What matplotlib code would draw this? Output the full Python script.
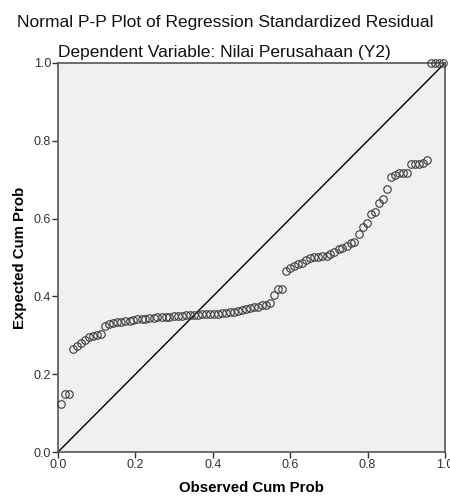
import matplotlib
matplotlib.use("Agg")
import matplotlib.pyplot as plt

plt.rcParams['font.family'] = ['Liberation Sans', 'DejaVu Sans']

title = "Normal P-P Plot of Regression Standardized Residual"
subtitle = "Dependent Variable: Nilai Perusahaan (Y2)"
x_label = "Observed Cum Prob"
y_label = "Expected Cum Prob"
tick_values = [0.0, 0.2, 0.4, 0.6, 0.8, 1.0]
tick_labels = ["0.0", "0.2", "0.4", "0.6", "0.8", "1.0"]

observed = [
    0.008, 0.018, 0.029, 0.039, 0.050, 0.060, 0.070, 0.081, 0.091, 0.102,
    0.112, 0.122, 0.133, 0.143, 0.153, 0.164, 0.174, 0.185, 0.195, 0.205,
    0.216, 0.226, 0.236, 0.247, 0.257, 0.268, 0.278, 0.288, 0.299, 0.309,
    0.320, 0.330, 0.340, 0.351, 0.361, 0.372, 0.382, 0.392, 0.403, 0.413,
    0.424, 0.434, 0.444, 0.455, 0.465, 0.475, 0.486, 0.496, 0.507, 0.517,
    0.527, 0.538, 0.548, 0.559, 0.569, 0.579, 0.590, 0.600, 0.611, 0.621,
    0.631, 0.642, 0.652, 0.662, 0.673, 0.683, 0.694, 0.704, 0.714, 0.725,
    0.735, 0.746, 0.756, 0.766, 0.777, 0.787, 0.798, 0.808, 0.818, 0.829,
    0.839, 0.849, 0.860, 0.870, 0.881, 0.891, 0.901, 0.912, 0.922, 0.932,
    0.943, 0.953, 0.964, 0.974, 0.984, 0.995,
]
expected = [
    0.123, 0.150, 0.150, 0.264, 0.272, 0.281, 0.289, 0.296, 0.299, 0.300,
    0.303, 0.325, 0.328, 0.331, 0.333, 0.335, 0.337, 0.338, 0.340, 0.341,
    0.342, 0.343, 0.344, 0.345, 0.346, 0.347, 0.347, 0.348, 0.349, 0.350,
    0.350, 0.351, 0.352, 0.352, 0.353, 0.354, 0.354, 0.355, 0.356, 0.356,
    0.357, 0.358, 0.359, 0.360, 0.363, 0.366, 0.368, 0.370, 0.372, 0.374,
    0.377, 0.379, 0.382, 0.403, 0.418, 0.418, 0.466, 0.472, 0.478, 0.483,
    0.487, 0.493, 0.498, 0.501, 0.502, 0.503, 0.504, 0.508, 0.515, 0.521,
    0.525, 0.530, 0.536, 0.540, 0.560, 0.578, 0.588, 0.612, 0.616, 0.639,
    0.650, 0.676, 0.706, 0.712, 0.717, 0.718, 0.718, 0.740, 0.740, 0.741,
    0.744, 0.751, 0.999, 0.9993, 0.9996, 0.9999,
]

fig = plt.figure(figsize=(4.5, 4.98), dpi=100)
fig.patch.set_facecolor('white')
ax = fig.add_axes([58/450, 1 - 452/498, 387/450, 389/498])
ax.set_facecolor('#F0F0F0')

ax.plot([0, 1], [0, 1], color='black', lw=1.0, zorder=2)
ax.plot(observed, expected, linestyle='none', marker='o', markersize=5.4,
        markerfacecolor='none', markeredgecolor='#3a3a3a', markeredgewidth=0.8,
        zorder=3, clip_on=False)

ax.set_xlim(0, 1)
ax.set_ylim(0, 1)
ax.set_xticks(tick_values)
ax.set_xticklabels(tick_labels)
ax.set_yticks(tick_values)
ax.set_yticklabels(tick_labels)
ax.tick_params(direction='out', length=4, width=1, color='#333333',
               labelsize=9, labelcolor='#333333', pad=1)
for s in ax.spines.values():
    s.set_color('#555555')
    s.set_linewidth(1.2)

ax.set_xlabel(x_label, fontsize=10.8, fontweight='bold', labelpad=7)
ax.set_ylabel(y_label, fontsize=10.8, fontweight='bold', labelpad=5)

fig.text(0.5, 1 - 22/498, title, ha='center', va='center', fontsize=12.5, color='#111111')
fig.text(224/450, 1 - 52/498, subtitle, ha='center', va='center', fontsize=12.5, color='#111111')

fig.savefig('out.png', dpi=100)
